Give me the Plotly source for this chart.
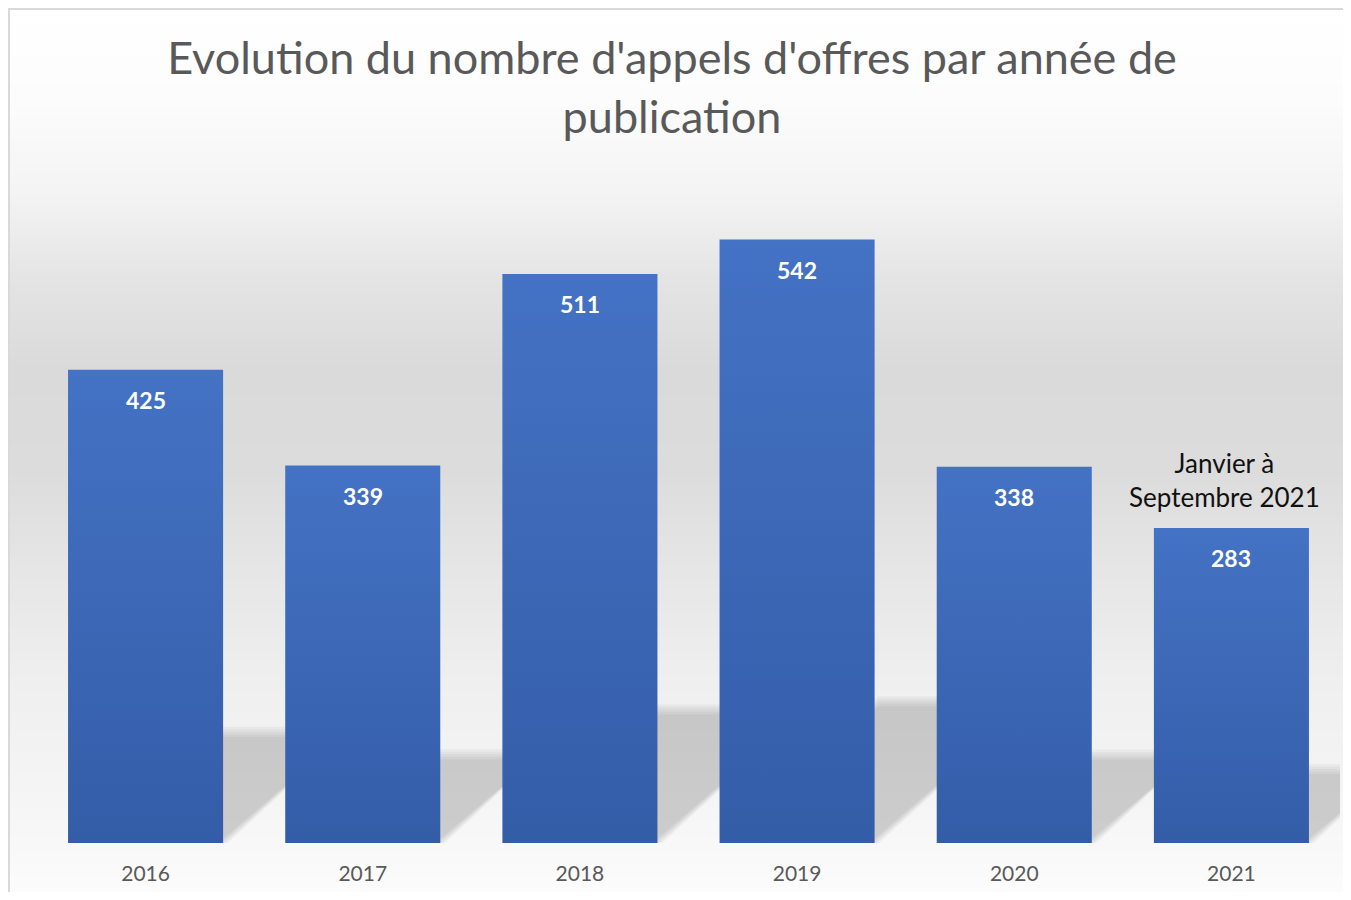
import base64
import struct
import zlib

import plotly.graph_objects as go

years = ["2016", "2017", "2018", "2019", "2020", "2021"]
appels = [425, 339, 511, 542, 338, 283]
note_2021 = "Janvier à<br>Septembre 2021"
title = "Evolution du nombre d'appels d'offres par année de<br>publication"

# the page puts the figure 8px in from the top-left corner
W, H = 1343, 884
M_L, M_R, M_T, M_B = 29, 11, 167, 49
Y_MAX = 600
HALF = 0.357  # half bar width, in category units

TOP_BLUE = "#4472C4"
BOTTOM_BLUE = "#345DA8"
GREY_TXT = "#595959"
FONT = "Lato"


def png_column(levels):
    """1 pixel wide grey PNG, one row per level, as a data uri."""
    raw = b"".join(b"\x00" + bytes([v, v, v]) for v in levels)

    def chunk(tag, data):
        return (struct.pack(">I", len(data)) + tag + data
                + struct.pack(">I", zlib.crc32(tag + data) & 0xffffffff))

    ihdr = struct.pack(">IIBBBBB", 1, len(levels), 8, 2, 0, 0, 0)
    png = (b"\x89PNG\r\n\x1a\n" + chunk(b"IHDR", ihdr)
           + chunk(b"IDAT", zlib.compress(raw, 9)) + chunk(b"IEND", b""))
    return "data:image/png;base64," + base64.b64encode(png).decode()


def background_levels():
    stops = [(0, 255), (92, 252), (182, 244), (272, 228), (362, 218), (462, 220),
             (552, 229), (672, 239), (792, 245), (862, 250), (884, 252)]
    out = []
    for y in range(H):
        for (y0, c0), (y1, c1) in zip(stops, stops[1:]):
            if y0 <= y <= y1:
                out.append(round(c0 + (c1 - c0) * (y - y0) / (y1 - y0)))
                break
    return out


plot_w = W - M_L - M_R
plot_h = H - M_T - M_B
px_per_x = plot_w / len(years)
px_per_y = plot_h / Y_MAX

fig = go.Figure()

# bars, drawn as filled polygons so that each one gets its own vertical gradient
for i, (year, v) in enumerate(zip(years, appels)):
    fig.add_trace(go.Scatter(
        x=[i - HALF, i + HALF, i + HALF, i - HALF, i - HALF],
        y=[0, 0, v, v, 0],
        mode="lines", line=dict(width=0), fill="toself",
        fillgradient=dict(type="vertical",
                          colorscale=[[0, BOTTOM_BLUE], [1, TOP_BLUE]]),
        name=year, hoverinfo="skip", showlegend=False,
    ))
    fig.add_annotation(x=i, y=v, text="<b>%d</b>" % v, showarrow=False,
                       yanchor="middle", yshift=-30,
                       font=dict(family=FONT, size=23, color="white"))

    # soft skewed shadow at the foot of each bar, a few faint layers
    hs = 0.235 * v
    dx = 1.12 * hs * px_per_y / px_per_x
    for k in range(5):
        grow = (k - 2) * 2.5  # px
        gy = grow / px_per_y
        gx = grow / px_per_x
        path = "M %f,0 L %f,0 L %f,%f L %f,%f Z" % (
            i - HALF, i + HALF + gx, i + HALF + dx + gx, hs + gy,
            i - HALF + dx, hs + gy)
        fig.add_shape(type="path", path=path, xref="x", yref="y",
                      fillcolor="rgba(0,0,0,0.037)", line=dict(width=0),
                      layer="below")

fig.add_annotation(x=len(years) - 1, y=appels[-1], text=note_2021, showarrow=False,
                   yanchor="bottom", yshift=13, xshift=-7,
                   font=dict(family=FONT, size=26, color="#111111"))

# gradient background for the whole chart
fig.add_layout_image(dict(
    source=png_column(background_levels()), xref="paper", yref="paper",
    x=-M_L / plot_w, y=1 + M_T / plot_h, sizex=W / plot_w, sizey=H / plot_h,
    xanchor="left", yanchor="top", sizing="stretch", layer="below",
))

# light frame on the top and left edges
for x0, y0, x1, y1 in [(0, 1, W, 1), (1, 0, 1, H)]:
    fig.add_shape(type="line", xref="paper", yref="paper",
                  x0=(x0 - M_L) / plot_w, x1=(x1 - M_L) / plot_w,
                  y0=1 - (y0 - M_T) / plot_h, y1=1 - (y1 - M_T) / plot_h,
                  line=dict(color="#d9d9d9", width=2), layer="above")

fig.update_layout(
    width=W, height=H,
    margin=dict(l=M_L, r=M_R, t=M_T, b=M_B, autoexpand=False),
    paper_bgcolor="white", plot_bgcolor="rgba(0,0,0,0)",
    title=dict(text=title, x=664 / W, xref="container", xanchor="center",
               y=1 - 66 / H, yref="container", yanchor="top",
               font=dict(family=FONT, size=45, color=GREY_TXT)),
    showlegend=False,
)
fig.update_xaxes(range=[-0.5, len(years) - 0.5], tickvals=list(range(len(years))),
                 ticktext=years, showgrid=False, zeroline=False, showline=False,
                 ticks="", ticklabelstandoff=16, automargin=False,
                 tickfont=dict(family=FONT, size=21, color=GREY_TXT))
fig.update_yaxes(range=[0, Y_MAX], visible=False, showgrid=False, zeroline=False,
                 automargin=False)

fig.write_html("out.html")
